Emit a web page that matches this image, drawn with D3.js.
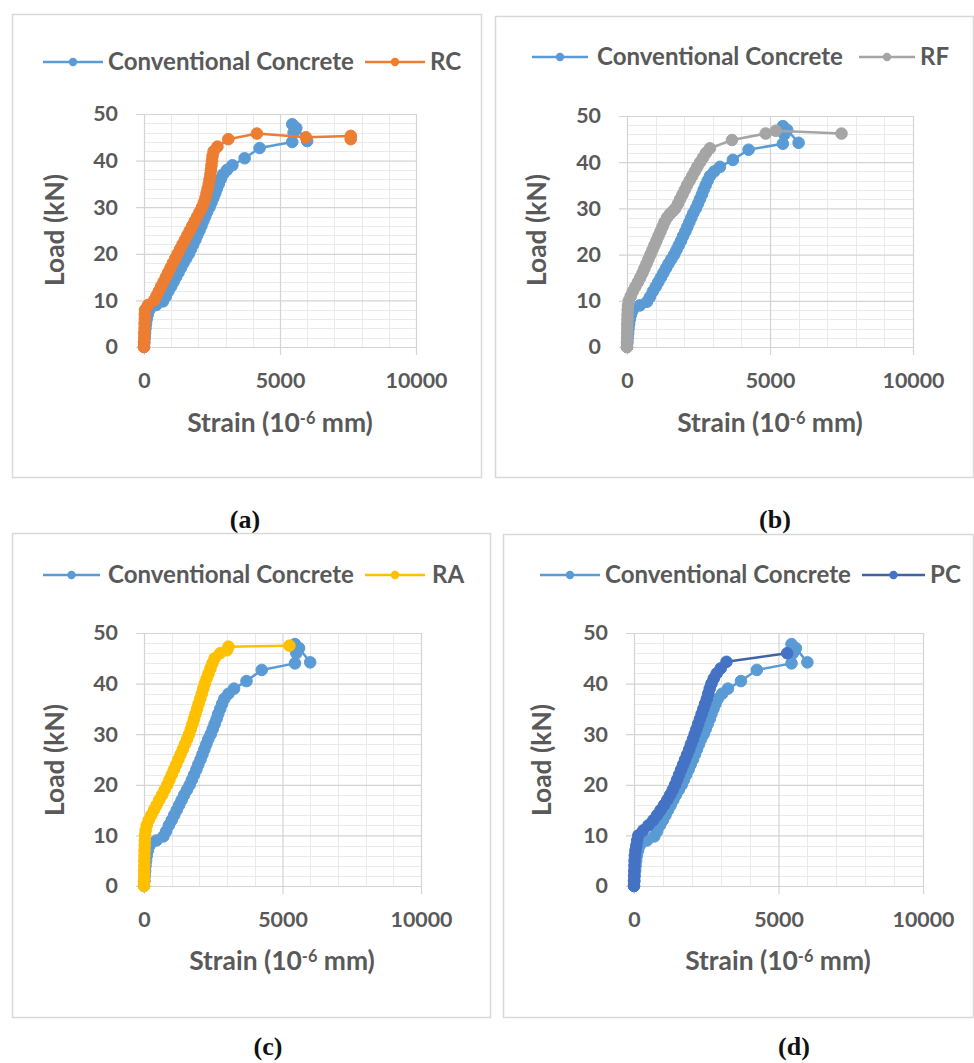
<!DOCTYPE html>
<html>
<head>
<meta charset="utf-8">
<script src="https://cdn.jsdelivr.net/npm/d3@7"></script>
<style>
  html, body { margin: 0; padding: 0; background: #ffffff; }
  svg { display: block; }
</style>
</head>
<body>
<svg id="fig" width="974" height="1063"></svg>
<script>
// Load–strain curves: conventional concrete vs. four modified mixes.
const xTicks = [0, 5000, 10000];
const yTicks = [0, 10, 20, 30, 40, 50];

// Conventional Concrete
const ccStrain = [0, 15, 25, 40, 55, 75, 100, 140, 200, 450, 700, 800, 900, 1000, 1090, 1180, 1270, 1360, 1450, 1550,
  1650, 1730, 1810, 1890, 1960, 2040, 2110, 2180, 2250, 2320, 2410, 2480, 2550, 2620, 2680, 2750, 2820, 2900, 3050,
  3250, 3700, 4250, 5450, 5500, 5450, 5600, 6000];
const ccLoad = [0, 1, 2, 3, 4, 5, 6, 7, 8, 9, 9.8, 10.8, 12, 13, 14, 15, 16, 17, 18, 19,
  20, 21, 22, 23, 24, 25, 26, 27, 28, 29, 30, 31, 32, 33, 34, 35, 36, 37, 38,
  39, 40.5, 42.7, 44, 46, 47.8, 47, 44.2];

// RC
const rcStrain = [0, 0, 10, 10, 20, 20, 30, 30, 40, 150, 370, 460, 545, 630, 720, 805, 890, 975, 1060, 1150,
  1235, 1325, 1415, 1505, 1595, 1685, 1775, 1865, 1955, 2045, 2135, 2200, 2260, 2300, 2340, 2380, 2410, 2440, 2460,
  2480, 2500, 2520, 2560, 2700, 3100, 4150, 5950, 7600, 7600];
const rcLoad = [0, 1, 2, 3, 4, 5, 6, 7, 8, 9, 10, 11, 12, 13, 14, 15, 16, 17, 18, 19,
  20, 21, 22, 23, 24, 25, 26, 27, 28, 29, 30, 31, 32, 33, 34, 35, 36, 37, 38,
  39, 40, 41, 42, 43, 44.6, 45.8, 45, 45.3, 44.6];

// RF
const rfStrain = [0, 0, 5, 5, 10, 10, 15, 20, 25, 35, 60, 130, 200, 290, 380, 460, 540, 610, 680, 750,
  820, 890, 960, 1030, 1100, 1170, 1240, 1310, 1400, 1500, 1600, 1690, 1780, 1860, 1940, 2020, 2100, 2190, 2280,
  2370, 2460, 2560, 2660, 2760, 2900, 3670, 4850, 5200, 7500];
const rfLoad = [0, 1, 2, 3, 4, 5, 6, 7, 8, 9, 10, 11, 12, 13, 14, 15, 16, 17, 18, 19,
  20, 21, 22, 23, 24, 25, 26, 27, 28, 28.8, 29.4, 30, 31, 32, 33, 34, 35, 36, 37,
  38, 39, 40, 41, 42, 43, 44.8, 46.2, 46.8, 46.2];

// RA
const raStrain = [0, 0, 5, 5, 10, 10, 15, 20, 25, 30, 40, 60, 100, 170, 265, 360, 455, 550, 650, 745,
  840, 920, 1000, 1080, 1160, 1240, 1320, 1400, 1480, 1555, 1630, 1690, 1750, 1800, 1860, 1915, 1970, 2030, 2085,
  2140, 2195, 2260, 2330, 2400, 2470, 2550, 2750, 3000, 3050, 5250];
const raLoad = [0, 1, 2, 3, 4, 5, 6, 7, 8, 9, 10, 11, 12, 13, 14, 15, 16, 17, 18, 19,
  20, 21, 22, 23, 24, 25, 26, 27, 28, 29, 30, 31, 32, 33, 34, 35, 36, 37, 38,
  39, 40, 41, 42, 43, 44, 45, 46, 46.6, 47.3, 47.5];

// PC
const pcStrain = [0, 0, 5, 10, 15, 20, 30, 50, 80, 110, 150, 320, 500, 667, 800, 920, 1040, 1150, 1250, 1340,
  1420, 1490, 1560, 1630, 1700, 1770, 1840, 1910, 1970, 2040, 2100, 2160, 2220, 2280, 2340, 2400, 2460, 2520, 2570,
  2620, 2680, 2760, 2860, 3000, 3200, 5300];
const pcLoad = [0, 1, 2, 3, 4, 5, 6, 7, 8, 9, 10, 11, 12, 13, 14, 15, 16, 17, 18, 19,
  20, 21, 22, 23, 24, 25, 26, 27, 28, 29, 30, 31, 32, 33, 34, 35, 36, 37, 38,
  39, 40, 41, 42, 43, 44.3, 46];

const series = {
  cc: { name: "Conventional Concrete", strain: ccStrain, load: ccLoad, line: "#5B9BD5", fill: "#5B9BD5" },
  rc: { name: "RC", strain: rcStrain, load: rcLoad, line: "#ED7D31", fill: "#ED7D31" },
  rf: { name: "RF", strain: rfStrain, load: rfLoad, line: "#A5A5A5", fill: "#A5A5A5" },
  ra: { name: "RA", strain: raStrain, load: raLoad, line: "#FFC000", fill: "#FFC000" },
  pc: { name: "PC", strain: pcStrain, load: pcLoad, line: "#3E64A6", fill: "#4472C4" }
};

// Layout of the four panels
const panels = [
  { tag: "(a)", other: "rc", frame: [12, 14, 481, 477], plot: [144, 114, 416, 347],
    legY: 62, leg: [[43, 103, 108], [365, 425, 430]], yTitle: [55, 230], xTitle: [280, 432], cap: [245, 528] },
  { tag: "(b)", other: "rf", frame: [495, 16, 973, 477], plot: [627, 116, 913, 347],
    legY: 57, leg: [[532, 588, 597], [859, 915, 920]], yTitle: [537, 230], xTitle: [770, 432], cap: [775, 528] },
  { tag: "(c)", other: "ra", frame: [12, 533, 490, 1017], plot: [144, 633, 421, 886],
    legY: 575, leg: [[43, 100, 108], [365, 425, 432]], yTitle: [55, 760], xTitle: [282, 970], cap: [268, 1055] },
  { tag: "(d)", other: "pc", frame: [503, 534, 973, 1017], plot: [634, 633, 923, 886],
    legY: 575, leg: [[540, 600, 605], [862, 925, 930]], yTitle: [542, 760], xTitle: [778, 970], cap: [794, 1055] }
];

const svg = d3.select("#fig");
svg.append("rect").attr("width", 974).attr("height", 1063).attr("fill", "#ffffff");

const FONT = "Lato, 'Open Sans', sans-serif";
const textColor = "#595959";

// Size a font so that a sample string spans the wanted width.
function fitSize(str, width) {
  const t = svg.append("text").style("font-family", FONT).attr("font-weight", 700)
    .attr("font-size", 100).text(str);
  const w = t.node().getComputedTextLength();
  t.remove();
  return 100 * width / w;
}
const legendSize = fitSize("Conventional Concrete", 246);
const tickSize = fitSize("10000", 62);
const titleSize = fitSize("Load (kN)", 112);

const fmt = d3.format("d");

panels.forEach(p => {
  const g = svg.append("g");
  const [fx0, fy0, fx1, fy1] = p.frame;
  g.append("rect").attr("x", fx0 + 0.5).attr("y", fy0 + 0.5)
    .attr("width", fx1 - fx0).attr("height", fy1 - fy0)
    .attr("fill", "#ffffff").attr("stroke", "#D9D9D9").attr("stroke-width", 1.5);

  const [px0, py0, px1, py1] = p.plot;
  const x = d3.scaleLinear().domain([0, 10000]).range([px0, px1]);
  const y = d3.scaleLinear().domain([0, 50]).range([py1, py0]);

  // minor gridlines
  const minor = g.append("g").attr("stroke", "#EAEAEA").attr("stroke-width", 1);
  minor.selectAll(".mv").data(d3.range(1000, 10000, 1000).filter(v => v % 5000 !== 0))
    .join("line").attr("x1", d => Math.round(x(d)) + 0.5).attr("x2", d => Math.round(x(d)) + 0.5)
    .attr("y1", py0).attr("y2", py1);
  minor.selectAll(".mh").data(d3.range(2, 50, 2).filter(v => v % 10 !== 0))
    .join("line").attr("y1", d => Math.round(y(d)) + 0.5).attr("y2", d => Math.round(y(d)) + 0.5)
    .attr("x1", px0).attr("x2", px1);

  // major gridlines + tick labels via axes
  const yAxis = d3.axisLeft(y).tickValues(yTicks).tickFormat(fmt)
    .tickSizeInner(-(px1 - px0)).tickSizeOuter(0).tickPadding(26);
  const ya = g.append("g").attr("transform", `translate(${px0},0)`).call(yAxis);
  ya.select(".domain").remove();
  ya.selectAll(".tick line").attr("x1", -8).attr("stroke", "#D4D4D4").attr("stroke-width", 1.2);
  ya.selectAll(".tick text").attr("fill", textColor).attr("font-size", tickSize).attr("font-weight", 700)
    .style("font-family", FONT);

  const xAxis = d3.axisBottom(x).tickValues(xTicks).tickFormat(fmt)
    .tickSizeInner(-(py1 - py0)).tickSizeOuter(0).tickPadding(26);
  const xa = g.append("g").attr("transform", `translate(0,${py1})`).call(xAxis);
  xa.select(".domain").remove();
  xa.selectAll(".tick line").attr("y1", 8).attr("stroke", "#D4D4D4").attr("stroke-width", 1.2);
  xa.selectAll(".tick text").attr("fill", textColor).attr("font-size", tickSize).attr("font-weight", 700)
    .style("font-family", FONT);

  // axis titles
  g.append("text").attr("transform", `translate(${p.yTitle[0]},${p.yTitle[1]}) rotate(-90)`)
    .attr("text-anchor", "middle").attr("dy", "0.35em").style("font-family", FONT)
    .attr("fill", textColor).attr("font-size", titleSize).attr("font-weight", 700).text("Load (kN)");
  const xt = g.append("text").attr("x", p.xTitle[0]).attr("y", p.xTitle[1]).style("font-family", FONT)
    .attr("text-anchor", "middle").attr("fill", textColor).attr("font-size", titleSize).attr("font-weight", 700);
  xt.append("tspan").text("Strain (10");
  xt.append("tspan").attr("font-size", titleSize * 0.62).attr("dy", -8).text("-6");
  xt.append("tspan").attr("dy", 8).text(" mm)");

  // series
  const line = d3.line().x(d => x(d[0])).y(d => y(d[1]));
  ["cc", p.other].forEach(key => {
    const s = series[key];
    const pts = s.strain.map((v, i) => [v, s.load[i]]);
    const sg = g.append("g");
    sg.append("path").attr("d", line(pts)).attr("fill", "none")
      .attr("stroke", s.line).attr("stroke-width", 2.5).attr("stroke-linejoin", "round");
    sg.selectAll("circle").data(pts).join("circle")
      .attr("cx", d => x(d[0])).attr("cy", d => y(d[1])).attr("r", 5.8)
      .attr("fill", s.fill).attr("stroke", s.fill).attr("stroke-width", 1);
  });

  // legend
  ["cc", p.other].forEach((key, i) => {
    const s = series[key];
    const [l0, l1, tx] = p.leg[i];
    g.append("line").attr("x1", l0).attr("x2", l1).attr("y1", p.legY).attr("y2", p.legY)
      .attr("stroke", s.line).attr("stroke-width", 2.5);
    g.append("circle").attr("cx", (l0 + l1) / 2).attr("cy", p.legY).attr("r", 4.2).attr("fill", s.fill);
    g.append("text").attr("x", tx).attr("y", p.legY).attr("dy", "0.35em").style("font-family", FONT)
      .attr("fill", textColor).attr("font-size", legendSize).attr("font-weight", 700).text(s.name);
  });

  // caption
  svg.append("text").attr("x", p.cap[0]).attr("y", p.cap[1]).attr("text-anchor", "middle")
    .style("font-family", "'Liberation Serif', 'Times New Roman', serif").attr("font-weight", 700)
    .attr("font-size", 26).attr("fill", "#111111").text(p.tag);
});
</script>
</body>
</html>
